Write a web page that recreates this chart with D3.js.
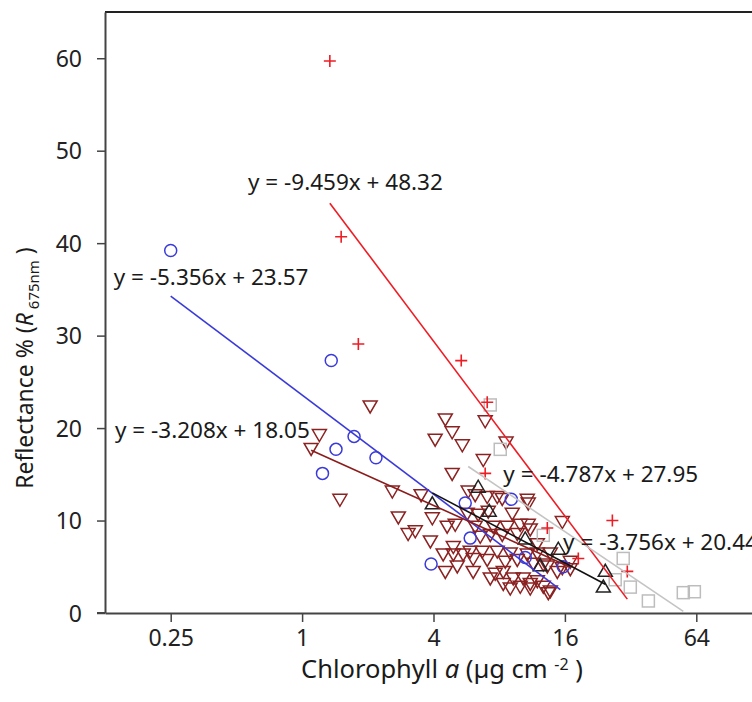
<!DOCTYPE html>
<html>
<head>
<meta charset="utf-8">
<script src="https://cdn.jsdelivr.net/npm/d3@7"></script>
<style>
  body { margin: 0; background: #fff; }
  svg { display: block; font-family: "Noto Sans", sans-serif; }
</style>
</head>
<body>
<div id="chart"></div>
<script>
var WD = 752, HT = 702
var margin = { left: 105, right: -10, top: 12, bottom: 89 }
var width = WD - margin.left - margin.right
var height = HT - margin.top - margin.bottom

// [chlorophyll a (ug cm-2), reflectance %]
var circles = [[0.25,39.2],[1.36,27.3],[1.43,17.7],[1.73,19.1],[2.18,16.8],[1.24,15.1],
  [3.90,5.3],[5.59,11.9],[5.89,8.1],[9.09,12.3],[10.53,6.0],[15.73,5.0]]

var pluses = [[1.34,59.7],[1.51,40.7],[1.81,29.1],[5.36,27.3],[7.05,22.8],[6.90,15.1],
  [13.29,9.2],[18.43,5.9],[26.4,10.0],[30.9,4.5]]

var squares = [[7.28,22.5],[8.09,17.7],[12.74,8.4],[29.6,5.9],[31.9,2.8],[38.6,1.3],
  [55.8,2.2],[62.7,2.3],[27.2,3.6]]

var upTriangles = [[3.95,11.7],[6.41,13.5],[7.20,10.9],[10.53,7.9],[12.34,5.0],
  [14.92,6.8],[24.5,4.4],[24.0,2.7]]

var downTriangles = [[1.10,17.9],[1.20,19.4],[1.49,12.4],[2.05,22.5],[2.59,13.3],[2.76,10.5],
  [3.06,8.7],[3.30,9.0],[3.51,12.9],[3.95,10.4],[3.87,7.9],[4.07,18.9],[4.53,21.1],[6.90,20.9],
  [4.87,19.7],[5.42,18.3],[8.6,18.6],[6.76,16.7],[4.87,15.2],[4.62,9.5],[5.77,13.3],[7.84,12.7],
  [10.76,12.4],[4.43,6.5],[4.93,6.5],[5.47,6.5],[4.53,4.6],[5.14,5.2],[5.89,6.8],[7.05,5.9],
  [7.67,4.4],[6.08,4.6],[8.35,3.3],[9.28,3.9],[9.68,5.9],[10.76,6.5],[11.10,3.3],[12.74,3.0],
  [5.03,9.7],[6.21,12.9],[7.05,12.7],[8.26,12.5],[10.87,12.0],[5.71,10.9],[6.41,10.8],[7.13,11.1],
  [9.18,10.9],[6.21,9.5],[7.51,9.5],[8.71,9.5],[9.99,9.7],[10.87,9.7],[11.10,9.2],[9.68,8.7],
  [8.26,8.6],[7.28,8.6],[6.55,8.4],[15.57,10.0],[4.93,7.3],[6.69,6.8],[7.84,6.8],[8.99,6.6],
  [11.96,6.6],[13.72,6.6],[6.08,6.0],[8.53,5.7],[11.46,5.5],[13.29,5.2],[15.57,5.0],[16.94,4.9],
  [8.35,4.6],[10.31,3.9],[11.96,3.6],[7.28,3.9],[8.99,2.8],[9.99,3.0],[11.10,2.8],[13.43,2.3],
  [14.77,4.6],[11.96,7.6],[12.74,5.4],[16.94,5.7],[13.72,2.5]]

// regression y = slope * log2(x) + intercept, drawn between x0 and x1
var fits = [
  { name: "plus",   slope: -9.459, intercept: 48.32, x0: 1.34, x1: 30.9, color: "#ee1d25", label: "y = -9.459x + 48.32", lx: 0.565, ly: 45.7 },
  { name: "circle", slope: -5.356, intercept: 23.57, x0: 0.25, x1: 15.24, color: "#3a3adb", label: "y = -5.356x + 23.57", lx: 0.137, ly: 35.5 },
  { name: "down",   slope: -3.208, intercept: 18.05, x0: 1.10, x1: 16.94, color: "#8b1c1c", label: "y = -3.208x + 18.05", lx: 0.139, ly: 18.9 },
  { name: "square", slope: -4.787, intercept: 27.95, x0: 5.77, x1: 55.8, color: "#c4c4c4", label: "y = -4.787x + 27.95", lx: 8.36, ly: 14.2 },
  { name: "up",     slope: -3.756, intercept: 20.44, x0: 3.95, x1: 24.5, color: "#111111", label: "y = -3.756x + 20.44", lx: 15.7, ly: 6.8 }
]

var xTicks = [0.25, 1, 4, 16, 64]
var yTicks = [0, 10, 20, 30, 40, 50, 60]

var svg = d3.select("#chart")
            .append("svg")
                .attr("width", WD)
                .attr("height", HT)
            .append("g")
                .attr("transform", "translate(" + margin.left + "," + margin.top + ")")

var x = d3.scaleLog().base(2).domain([0.125, 128]).range([0, width])
var y = d3.scaleLinear().domain([0, 65]).range([height, 0])

// frame top
svg.append("line")
   .attr("x1", 0).attr("x2", width)
   .attr("y1", 0).attr("y2", 0)
   .attr("stroke", "#222").attr("stroke-width", 2)

// axes
var xAxis = svg.append("g")
   .attr("transform", "translate(0," + height + ")")
   .call(d3.axisBottom(x).tickValues(xTicks).tickFormat(function(d){ return d; }).tickSize(9).tickPadding(8).tickSizeOuter(0))
var yAxis = svg.append("g")
   .call(d3.axisLeft(y).tickValues(yTicks).tickSize(8).tickPadding(15).tickSizeOuter(0))

svg.selectAll(".domain").attr("stroke", "#444").attr("stroke-width", 2)
svg.selectAll(".tick line").attr("stroke", "#444").attr("stroke-width", 1.5)
svg.selectAll(".tick text").attr("fill", "#222").style("font-size", "23px").style("font-family", "Noto Sans")
yAxis.selectAll(".tick text").attr("dy", "0.36em")
// extend x axis line left to y tick
xAxis.append("line").attr("x1", -8).attr("x2", 0).attr("stroke", "#444").attr("stroke-width", 2)

// markers
var g = svg.append("g").attr("fill", "none")

g.selectAll(".down").data(downTriangles).enter().append("path")
   .attr("class", "down")
   .attr("transform", function(d){ return "translate(" + x(d[0]) + "," + y(d[1]) + ")"; })
   .attr("d", "M-7,-4L7,-4L0,8Z")
   .attr("stroke", "#8b2222").attr("stroke-width", 1.5)

g.selectAll(".square").data(squares).enter().append("rect")
   .attr("class", "square")
   .attr("x", function(d){ return x(d[0]) - 6; })
   .attr("y", function(d){ return y(d[1]) - 6; })
   .attr("width", 12).attr("height", 12)
   .attr("stroke", "#bdbdbd").attr("stroke-width", 1.5)

g.selectAll(".up").data(upTriangles).enter().append("path")
   .attr("class", "up")
   .attr("transform", function(d){ return "translate(" + x(d[0]) + "," + y(d[1]) + ")"; })
   .attr("d", "M-7,4L7,4L0,-8Z")
   .attr("stroke", "#222").attr("stroke-width", 1.5)

g.selectAll(".circle").data(circles).enter().append("circle")
   .attr("class", "circle")
   .attr("cx", function(d){ return x(d[0]); })
   .attr("cy", function(d){ return y(d[1]); })
   .attr("r", 6)
   .attr("stroke", "#3a3adb").attr("stroke-width", 1.5)

g.selectAll(".plus").data(pluses).enter().append("path")
   .attr("class", "plus")
   .attr("transform", function(d){ return "translate(" + x(d[0]) + "," + y(d[1]) + ")"; })
   .attr("d", "M-6,0H6M0,-6V6")
   .attr("stroke", "#ee1d25").attr("stroke-width", 1.6)

// fit lines
var fx = function(f, v){ return f.slope * Math.log2(v) + f.intercept; }
svg.selectAll(".fit").data(fits).enter().append("line")
   .attr("class", "fit")
   .attr("x1", function(f){ return x(f.x0); })
   .attr("y1", function(f){ return y(fx(f, f.x0)); })
   .attr("x2", function(f){ return x(f.x1); })
   .attr("y2", function(f){ return y(fx(f, f.x1)); })
   .attr("stroke", function(f){ return f.color; })
   .attr("stroke-width", 1.6)

svg.selectAll(".eq").data(fits).enter().append("text")
   .attr("class", "eq")
   .attr("x", function(f){ return x(f.lx); })
   .attr("y", function(f){ return y(f.ly); })
   .attr("fill", "#1a1a1a")
   .style("font-size", "22.5px")
   .text(function(f){ return f.label; })

// axis titles
var xt = svg.append("text")
   .attr("x", 337).attr("y", height + 65)
   .attr("text-anchor", "middle")
   .attr("fill", "#1a1a1a")
   .style("font-size", "25.5px")
xt.append("tspan").text("Chlorophyll ")
xt.append("tspan").style("font-style", "italic").text("a")
xt.append("tspan").text(" (\u00b5g cm ")
xt.append("tspan").attr("dy", -8).style("font-size", "16px").text("-2")
xt.append("tspan").attr("dy", 8).text(" )")

var yt = svg.append("text")
   .attr("transform", "translate(-72," + 356 + ") rotate(-90)")
   .attr("text-anchor", "middle")
   .attr("fill", "#1a1a1a")
   .style("font-size", "23px")
yt.append("tspan").text("Reflectance % (")
yt.append("tspan").style("font-style", "italic").text("R")
yt.append("tspan").attr("dy", 6).style("font-size", "15px").text(" 675nm")
yt.append("tspan").attr("dy", -6).text(" )")
</script>
</body>
</html>
